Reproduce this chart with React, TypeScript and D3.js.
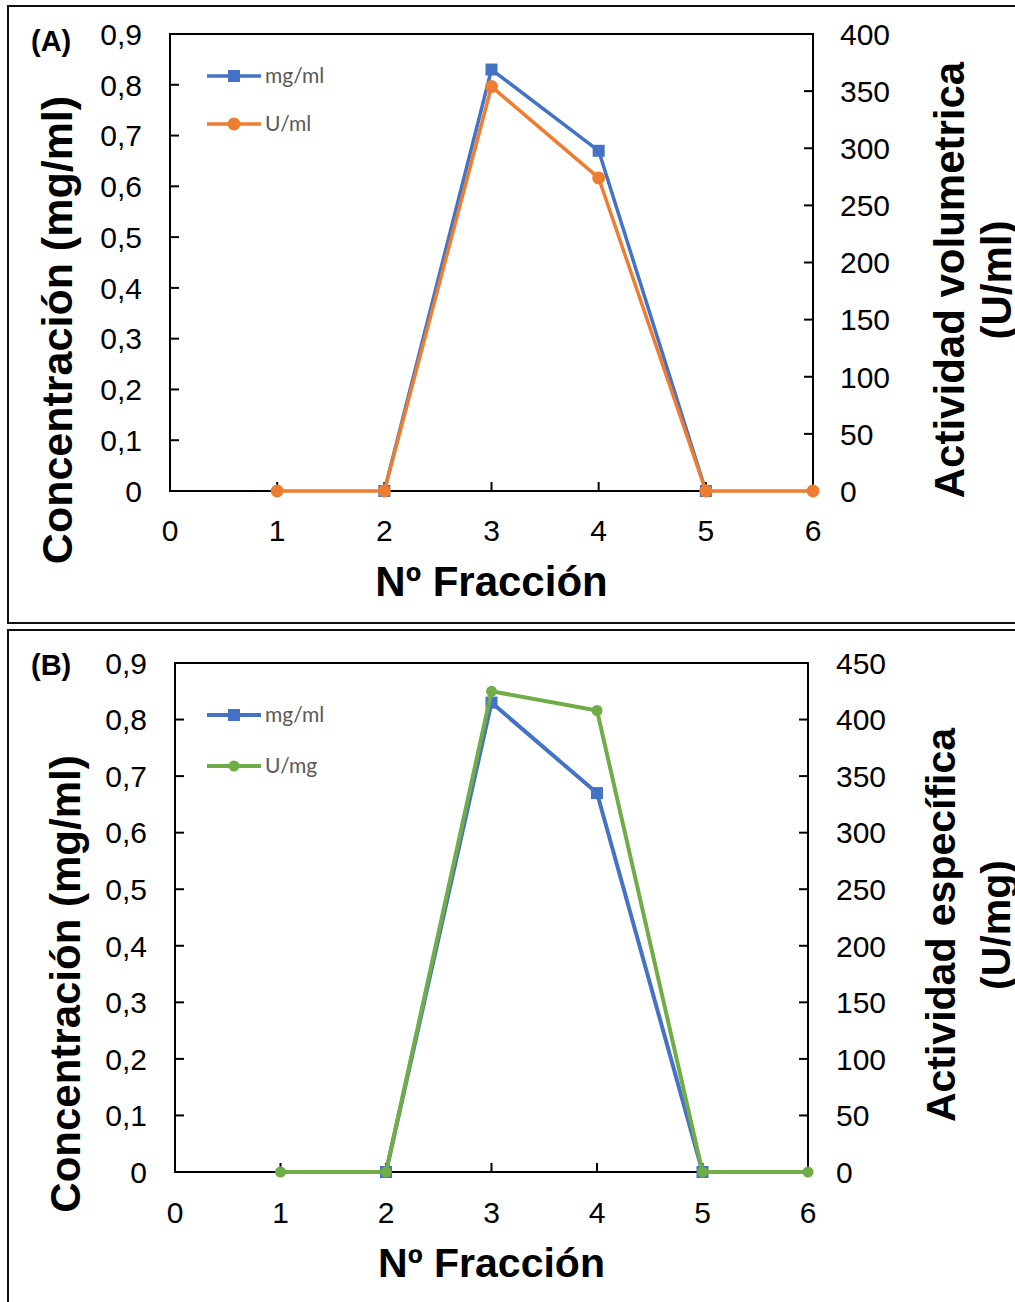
import React from "react";
import * as d3 from "d3";

// Fraction numbers on the x axis
const fractions = [1, 2, 3, 4, 5, 6];
// Protein concentration (mg/ml); fractions 1 and 6 were not measured
const proteinA: (number | null)[] = [null, 0, 0.83, 0.67, 0, null];
const proteinB: (number | null)[] = [null, 0, 0.83, 0.67, 0, null];
// Volumetric activity (U/ml)
const volActivity = [0, 0, 354, 274, 0, 0];
// Specific activity (U/mg)
const specActivity = [0, 0, 425, 408, 0, 0];

const xTicks = [0, 1, 2, 3, 4, 5, 6];
const leftTicks = [0, 0.1, 0.2, 0.3, 0.4, 0.5, 0.6, 0.7, 0.8, 0.9];
const rightTicksA = [0, 50, 100, 150, 200, 250, 300, 350, 400];
const rightTicksB = [0, 50, 100, 150, 200, 250, 300, 350, 400, 450];

const BLUE = "#4472C4";
const ORANGE = "#ED7D31";
const GREEN = "#70AD47";
const FONT = "'Liberation Sans', Arial, sans-serif";
const LEGEND_FONT = "Lato, 'Open Sans', sans-serif";

type PanelProps = {
  label: string;
  frameTop: number;
  frameBottom: number;
  left: number;
  right: number;
  top: number;
  bottom: number;
  rightMax: number;
  rightTicks: number[];
  activity: number[];
  activityColor: string;
  activityName: string;
  circleR: number;
  protein: (number | null)[];
  rightTitle: [string, string];
  titleSize: number;
  leftTitleX: number;
  leftTitleY: number;
  leftLabelX: number;
  rightLabelX: number;
  rightTitleX: [number, number];
  rightTitleY: number;
  xTitleY: number;
  xLabelY: number;
  legendY: [number, number];
  lineW: number;
};

const fmt = (v: number) => String(Math.round(v * 10) / 10).replace(".", ",");

function Panel(p: PanelProps) {
  const x = d3.scaleLinear().domain([0, 6]).range([p.left, p.right]);
  const yL = d3.scaleLinear().domain([0, 0.9]).range([p.bottom, p.top]);
  const yR = d3.scaleLinear().domain([0, p.rightMax]).range([p.bottom, p.top]);

  const protPts = fractions
    .map((f, i) => [f, p.protein[i]] as [number, number | null])
    .filter((d) => d[1] !== null) as [number, number][];
  const actPts = fractions.map((f, i) => [f, p.activity[i]] as [number, number]);

  const protLine = d3
    .line<[number, number]>()
    .x((d) => x(d[0]))
    .y((d) => yL(d[1]));
  const actLine = d3
    .line<[number, number]>()
    .x((d) => x(d[0]))
    .y((d) => yR(d[1]));

  const tickLen = 9;
  const sq = 12;
  const midX = (p.left + p.right) / 2;

  return (
    <g>
      {/* panel frame, open on the right and bottom edges of the page */}
      <rect
        x={8}
        y={p.frameTop}
        width={1100}
        height={p.frameBottom - p.frameTop}
        fill="none"
        stroke="#111"
        strokeWidth={2}
      />
      <text x={31} y={p.frameTop + 45} fontFamily={FONT} fontWeight="bold" fontSize={29}>
        {p.label}
      </text>

      {/* plot box */}
      <rect
        x={p.left}
        y={p.top}
        width={p.right - p.left}
        height={p.bottom - p.top}
        fill="none"
        stroke="#000"
        strokeWidth={2}
      />

      {/* x ticks */}
      {xTicks.map((t) => (
        <g key={"x" + t}>
          {t > 0 && t < 6 && (
            <line x1={x(t)} x2={x(t)} y1={p.bottom} y2={p.bottom - tickLen} stroke="#000" strokeWidth={2} />
          )}
          <text x={x(t)} y={p.xLabelY} textAnchor="middle" fontFamily={FONT} fontSize={30}>
            {t}
          </text>
        </g>
      ))}

      {/* left ticks */}
      {leftTicks.map((t) => (
        <g key={"l" + t}>
          {t > 0 && t < 0.85 && (
            <line x1={p.left} x2={p.left + tickLen} y1={yL(t)} y2={yL(t)} stroke="#000" strokeWidth={2} />
          )}
          <text
            x={p.leftLabelX}
            y={yL(t)}
            dy="0.36em"
            textAnchor="end"
            fontFamily={FONT}
            fontSize={30}
          >
            {fmt(t)}
          </text>
        </g>
      ))}

      {/* right ticks */}
      {p.rightTicks.map((t) => (
        <g key={"r" + t}>
          {t > 0 && t < p.rightMax && (
            <line x1={p.right} x2={p.right - tickLen} y1={yR(t)} y2={yR(t)} stroke="#000" strokeWidth={2} />
          )}
          <text
            x={p.rightLabelX}
            y={yR(t)}
            dy="0.36em"
            textAnchor="start"
            fontFamily={FONT}
            fontSize={30}
          >
            {t}
          </text>
        </g>
      ))}

      {/* axis titles */}
      <text
        x={midX}
        y={p.xTitleY}
        textAnchor="middle"
        fontFamily={FONT}
        fontWeight="bold"
        fontSize={p.titleSize}
      >
        Nº Fracción
      </text>
      <text
        transform={`translate(${p.leftTitleX},${p.leftTitleY}) rotate(-90)`}
        textAnchor="middle"
        dy="0.36em"
        fontFamily={FONT}
        fontWeight="bold"
        fontSize={p.titleSize + 1}
      >
        Concentración (mg/ml)
      </text>
      {p.rightTitle.map((s, i) => (
        <text
          key={s}
          transform={`translate(${p.rightTitleX[i]},${p.rightTitleY}) rotate(-90)`}
          textAnchor="middle"
          dy="0.36em"
          fontFamily={FONT}
          fontWeight="bold"
          fontSize={p.titleSize}
        >
          {s}
        </text>
      ))}

      {/* protein series */}
      <path d={protLine(protPts) || ""} fill="none" stroke={BLUE} strokeWidth={p.lineW} strokeLinejoin="round" />
      {protPts.map((d, i) => (
        <rect key={"ps" + i} x={x(d[0]) - sq / 2} y={yL(d[1]) - sq / 2} width={sq} height={sq} fill={BLUE} />
      ))}

      {/* activity series */}
      <path d={actLine(actPts) || ""} fill="none" stroke={p.activityColor} strokeWidth={p.lineW} strokeLinejoin="round" />
      {actPts.map((d, i) => (
        <circle key={"ac" + i} cx={x(d[0])} cy={yR(d[1])} r={p.circleR} fill={p.activityColor} />
      ))}

      {/* legend */}
      <g>
        <line x1={207} x2={261} y1={p.legendY[0]} y2={p.legendY[0]} stroke={BLUE} strokeWidth={p.lineW} />
        <rect x={234 - sq / 2} y={p.legendY[0] - sq / 2} width={sq} height={sq} fill={BLUE} />
        <text x={265} y={p.legendY[0]} dy="0.35em" fontFamily={LEGEND_FONT} fontSize={21} fill="#595959">
          mg/ml
        </text>
        <line x1={207} x2={261} y1={p.legendY[1]} y2={p.legendY[1]} stroke={p.activityColor} strokeWidth={p.lineW} />
        <circle cx={234} cy={p.legendY[1]} r={p.circleR} fill={p.activityColor} />
        <text x={265} y={p.legendY[1]} dy="0.35em" fontFamily={LEGEND_FONT} fontSize={21} fill="#595959">
          {p.activityName}
        </text>
      </g>
    </g>
  );
}

export default function App() {
  return (
    <div style={{ position: "absolute", left: 0, top: 0 }}>
      <svg width={1015} height={1302} style={{ display: "block", background: "#fff" }}>
        <rect width={1015} height={1302} fill="#fff" />
        <Panel
          label="(A)"
          frameTop={6}
          frameBottom={623}
          left={170}
          right={813}
          top={34}
          bottom={491}
          rightMax={400}
          rightTicks={rightTicksA}
          activity={volActivity}
          activityColor={ORANGE}
          activityName="U/ml"
          circleR={6.5}
          protein={proteinA}
          rightTitle={["Actividad volumetrica", "(U/ml)"]}
          titleSize={42}
          leftTitleX={57}
          leftTitleY={330}
          leftLabelX={142}
          rightLabelX={840}
          rightTitleX={[949, 996]}
          rightTitleY={280}
          xTitleY={596}
          xLabelY={541}
          legendY={[76, 124]}
          lineW={3.5}
        />
        <Panel
          label="(B)"
          frameTop={630}
          frameBottom={1400}
          left={175}
          right={808}
          top={663}
          bottom={1172}
          rightMax={450}
          rightTicks={rightTicksB}
          activity={specActivity}
          activityColor={GREEN}
          activityName="U/mg"
          circleR={5.5}
          protein={proteinB}
          rightTitle={["Actividad específica", "(U/mg)"]}
          titleSize={41}
          leftTitleX={65}
          leftTitleY={984}
          leftLabelX={147}
          rightLabelX={836}
          rightTitleX={[940, 995]}
          rightTitleY={925}
          xTitleY={1277}
          xLabelY={1223}
          legendY={[715, 766]}
          lineW={4}
        />
      </svg>
    </div>
  );
}
